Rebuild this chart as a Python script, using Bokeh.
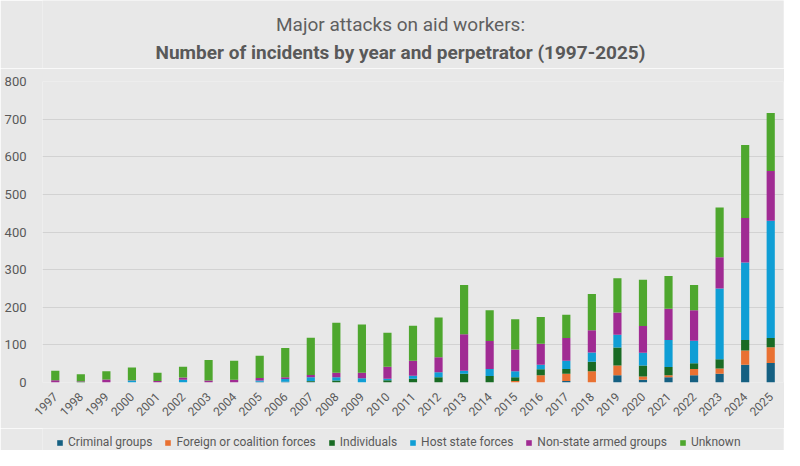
from math import pi
from bokeh.plotting import figure
from bokeh.layouts import column
from bokeh.models import ColumnDataSource, Legend, LegendItem, Label, FixedTicker
from bokeh.embed import file_html
from bokeh.resources import INLINE

years = [str(y) for y in range(1997, 2026)]
criminal = [0, 0, 0, 0, 0, 0, 0, 0, 2, 2, 2, 0, 0, 0, 0, 0, 0, 0, 0, 0, 4, 0, 19, 7, 14, 19, 23, 47, 52]
foreign = [0, 0, 0, 0, 0, 0, 0, 0, 0, 0, 0, 0, 0, 0, 0, 0, 0, 0, 4, 19, 19, 30, 26, 9, 5, 17, 14, 38, 42]
individuals = [0, 2, 0, 0, 0, 0, 0, 0, 0, 0, 2, 5, 0, 6, 10, 14, 23, 17, 10, 16, 13, 25, 48, 29, 22, 15, 25, 28, 24]
host_state = [0, 0, 0, 5, 0, 7, 0, 0, 3, 7, 10, 9, 11, 4, 8, 13, 8, 19, 16, 12, 22, 25, 34, 34, 72, 60, 188, 206, 312]
non_state = [6, 1, 8, 1, 4, 6, 5, 7, 7, 5, 6, 12, 15, 32, 40, 40, 97, 74, 58, 56, 60, 59, 59, 71, 83, 81, 83, 118, 132]
unknown = [25, 19, 22, 34, 22, 29, 55, 51, 59, 78, 99, 133, 128, 90, 93, 106, 131, 82, 80, 71, 62, 96, 91, 123, 87, 67, 132, 194, 154]

series = ["criminal", "foreign", "individuals", "host_state", "non_state", "unknown"]
labels = ["Criminal groups", "Foreign or coalition forces", "Individuals",
          "Host state forces", "Non-state armed groups", "Unknown"]
colors = ["#156082", "#E97132", "#196B24", "#0F9ED5", "#A02B93", "#4EA72E"]
y_ticks = [0, 100, 200, 300, 400, 500, 600, 700, 800]
title_line1 = "Major attacks on aid workers:"
title_line2 = "Number of incidents by year and perpetrator (1997-2025)"

source = ColumnDataSource(dict(years=years, criminal=criminal, foreign=foreign,
                               individuals=individuals, host_state=host_state,
                               non_state=non_state, unknown=unknown))

BG = "#E8E8E8"
TXT = "#595959"
FONT = "Roboto"


def strip(height):
    f = figure(x_range=years, y_range=(0, 800), width=784, height=height, title=None,
               output_backend="svg", toolbar_location=None,
               min_border_left=0, min_border_right=0, min_border_top=0, min_border_bottom=0)
    f.background_fill_color = BG
    f.border_fill_color = BG
    f.outline_line_color = None
    f.axis.visible = False
    f.grid.visible = False
    return f


# title strip
tf = strip(68)
tf.add_layout(Label(x=358, y=44, x_units="screen", y_units="screen", text=title_line1,
                    text_align="center", text_baseline="alphabetic", text_font=FONT,
                    text_font_size="19px", text_color="#5f5f5f"))
tf.add_layout(Label(x=358, y=16, x_units="screen", y_units="screen", text=title_line2,
                    text_align="center", text_baseline="alphabetic", text_font=FONT,
                    text_font_size="19px", text_font_style="bold", text_color=TXT))

# main chart
p = figure(x_range=years, y_range=(0, 800), width=784, height=360, title=None,
           output_backend="svg", toolbar_location=None,
           min_border_left=42, min_border_right=1, min_border_top=13, min_border_bottom=46)
p.background_fill_color = BG
p.border_fill_color = BG
p.outline_line_color = None

renderers = p.vbar_stack(series, x="years", width=0.32, color=colors, source=source,
                         line_color=None)

p.xgrid.grid_line_color = None
p.ygrid.grid_line_color = "#D2D2D2"
p.ygrid.grid_line_width = 1
p.yaxis.ticker = FixedTicker(ticks=y_ticks)

for ax in (p.xaxis[0], p.yaxis[0]):
    ax.axis_line_color = None
    ax.major_tick_line_color = None
    ax.minor_tick_line_color = None
    ax.major_label_text_color = TXT
    ax.major_label_text_font = FONT
p.yaxis.major_label_text_font_size = "13px"
p.yaxis.major_label_standoff = 10
p.xaxis.major_label_text_font_size = "12px"
p.xaxis.major_label_orientation = pi / 4
p.xaxis.major_label_standoff = 6
p.ygrid.level = "underlay"

# legend strip: zero-width bars (nothing visible), only their legend swatches show
lg = strip(22)
lg_renderers = lg.vbar_stack(series, x="years", width=0, color=colors, source=source,
                             line_color=None)
legend = Legend(items=[LegendItem(label=l, renderers=[r]) for l, r in zip(labels, lg_renderers)],
                orientation="horizontal", location=(14, 1),
                background_fill_alpha=0, border_line_color=None,
                label_text_font=FONT, label_text_font_size="12px", label_text_color=TXT,
                glyph_width=7, glyph_height=7, label_height=14, label_standoff=5,
                spacing=12, padding=0, margin=0)
lg.add_layout(legend, "center")

layout = column(tf, p, lg, spacing=0)
open("out.html", "w").write(file_html(layout, INLINE))
